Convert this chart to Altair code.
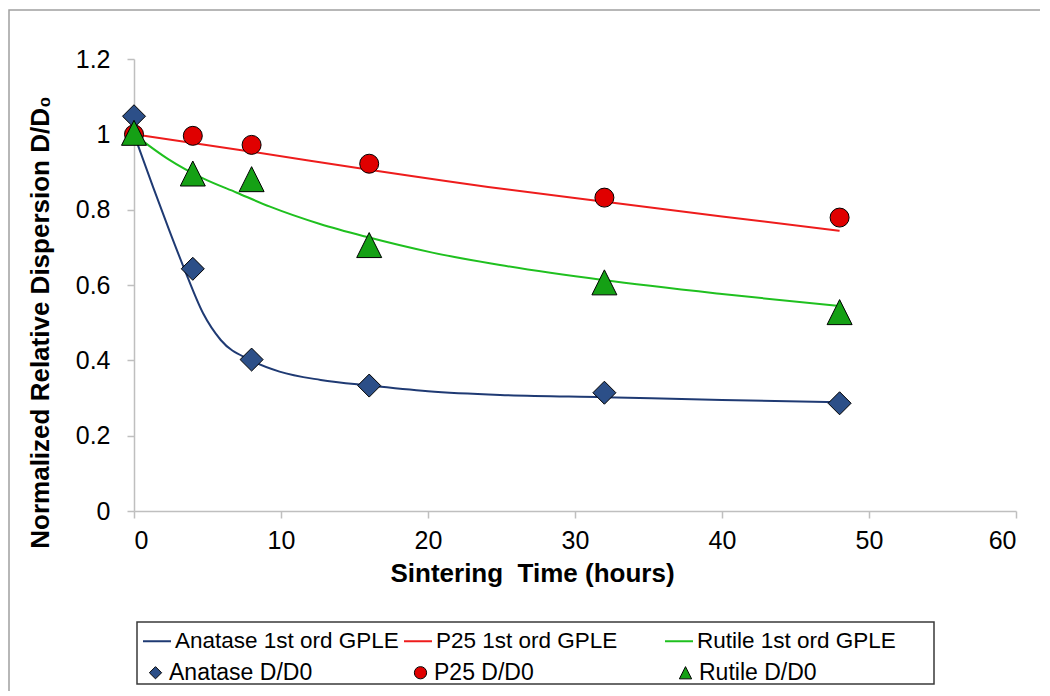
import altair as alt
import pandas as pd

# ---------------- data ----------------
time_h = [0, 4, 8, 16, 32, 48]
anatase_dd0 = [1.048, 0.643, 0.402, 0.333, 0.314, 0.286]
p25_dd0 = [1.0, 0.996, 0.972, 0.922, 0.832, 0.779]
rutile_dd0 = [1.004, 0.896, 0.881, 0.706, 0.607, 0.528]

fit_anatase_t = [0, 1.3, 2.4, 3.4, 4.7, 5.9, 7.9, 9.9, 12.7, 16, 20, 24.9, 32, 40, 48]
fit_anatase_v = [1.0, 0.86, 0.745, 0.645, 0.525, 0.454, 0.401, 0.370, 0.348, 0.333,
                 0.318, 0.308, 0.302, 0.295, 0.289]
fit_p25_t = [0, 8, 16, 24.9, 32, 40, 48]
fit_p25_v = [1.0, 0.954, 0.906, 0.856, 0.821, 0.782, 0.744]
fit_rutile_t = [0, 2.3, 4.7, 7.0, 9.25, 12.65, 15.8, 20.3, 24.9, 31.9, 40, 48]
fit_rutile_v = [1.0, 0.935, 0.883, 0.845, 0.808, 0.762, 0.728, 0.686, 0.653, 0.613,
                0.576, 0.544]

fit_names = ["Anatase 1st ord GPLE", "P25 1st ord GPLE", "Rutile 1st ord GPLE"]
fit_colors = ["#1F3A73", "#EE1C1C", "#1FC01F"]
pt_names = ["Anatase D/D0", "P25 D/D0", "Rutile D/D0"]
pt_values = [anatase_dd0, p25_dd0, rutile_dd0]
pt_colors = ["#2C4F88", "#E00000", "#15A015"]
pt_shapes = ["diamond", "circle", "M0,-1L1,1L-1,1Z"]
pt_sizes = [530, 361, 625]

x_ticks = [0, 10, 20, 30, 40, 50, 60]
y_ticks = [0, 0.2, 0.4, 0.6, 0.8, 1.0, 1.2]

# ---------------- tables ----------------
fit_rows = []
for name, ts, vs in zip(fit_names, [fit_anatase_t, fit_p25_t, fit_rutile_t],
                        [fit_anatase_v, fit_p25_v, fit_rutile_v]):
    for i, (t, v) in enumerate(zip(ts, vs)):
        fit_rows.append({"series": name, "t": t, "v": v, "i": i})
fit_df = pd.DataFrame(fit_rows)

W, H = 882, 452
FONT = "Liberation Sans"

x_enc = alt.X("t:Q", scale=alt.Scale(domain=[0, 60], nice=False),
              axis=alt.Axis(values=x_ticks, title="Sintering\u00a0 Time (hours)",
                            labelFontSize=25, labelPadding=10,
                            titleX=398, titleY=70, titleBaseline="alphabetic",
                            titleFontSize=26))
y_enc = alt.Y("v:Q", scale=alt.Scale(domain=[0, 1.2], nice=False),
              axis=alt.Axis(values=y_ticks, format=".1~f",
                            title="Normalized Relative Dispersion D/D\u2080",
                            labelFontSize=25, labelPadding=17,
                            titleX=-86, titleY=263, titleAngle=-90,
                            titleBaseline="alphabetic", titleFontSize=26))

one = pd.DataFrame({"k": [0]})

frame = alt.Chart(one).mark_rect(fill="transparent", stroke="#A0A0A0", strokeWidth=1.5).encode(
    x=alt.value(-125), x2=alt.value(W + 60), y=alt.value(-49), y2=alt.value(H + 300))

legend_box = alt.Chart(one).mark_rect(fill="transparent", stroke="#3A3A3A", strokeWidth=1.5).encode(
    x=alt.value(3), x2=alt.value(800), y=alt.value(563), y2=alt.value(625))

lines = alt.Chart(fit_df).mark_line(strokeWidth=2, interpolate="monotone").encode(
    x=x_enc, y=y_enc, order="i:Q",
    stroke=alt.Stroke("series:N", scale=alt.Scale(domain=fit_names, range=fit_colors),
                      legend=alt.Legend(title=None, orient="none", legendX=8, legendY=567,
                                        direction="horizontal", columns=3, gridAlign="all",
                                        columnPadding=1, symbolType="stroke", symbolSize=784,
                                        symbolStrokeWidth=2, labelFontSize=22.5, labelOffset=3,
                                        labelFont=FONT, labelColor="black", labelLimit=400,
                                        padding=0)),
)


def pt_legend():
    return alt.Legend(title=None, orient="none", legendX=10, legendY=602,
                      direction="horizontal", columns=3, gridAlign="all",
                      columnPadding=96, symbolSize=150, symbolStrokeColor="black",
                      symbolStrokeWidth=1, labelFontSize=23, labelOffset=2,
                      labelFont=FONT, labelColor="black", labelLimit=400, padding=0)


point_layers = []
for name, vs, size in zip(pt_names, pt_values, pt_sizes):
    df = pd.DataFrame({"series": [name] * len(time_h), "t": time_h, "v": vs})
    point_layers.append(
        alt.Chart(df).mark_point(filled=True, stroke="black", strokeWidth=1, opacity=1, size=size).encode(
            x=x_enc, y=y_enc,
            color=alt.Color("series:N", scale=alt.Scale(domain=pt_names, range=pt_colors),
                            legend=pt_legend()),
            shape=alt.Shape("series:N", scale=alt.Scale(domain=pt_names, range=pt_shapes),
                            legend=pt_legend()),
        )
    )

chart = alt.layer(frame, legend_box, lines, *point_layers).properties(
    width=W, height=H,
    autosize=alt.AutoSizeParams(type="none"),
    padding={"left": 126, "top": 51, "right": 24, "bottom": 180},
    background="white",
).configure_view(stroke=None).configure_axis(
    grid=False, domainColor="#BFBFBF", tickColor="#BFBFBF", tickSize=7,
    domainWidth=1.5, tickWidth=1.5,
    labelFont=FONT, labelColor="black", titleFont=FONT, titleColor="black",
    titleFontWeight="bold",
)

chart.save("out.html", embed_options={"renderer": "svg", "actions": False})
